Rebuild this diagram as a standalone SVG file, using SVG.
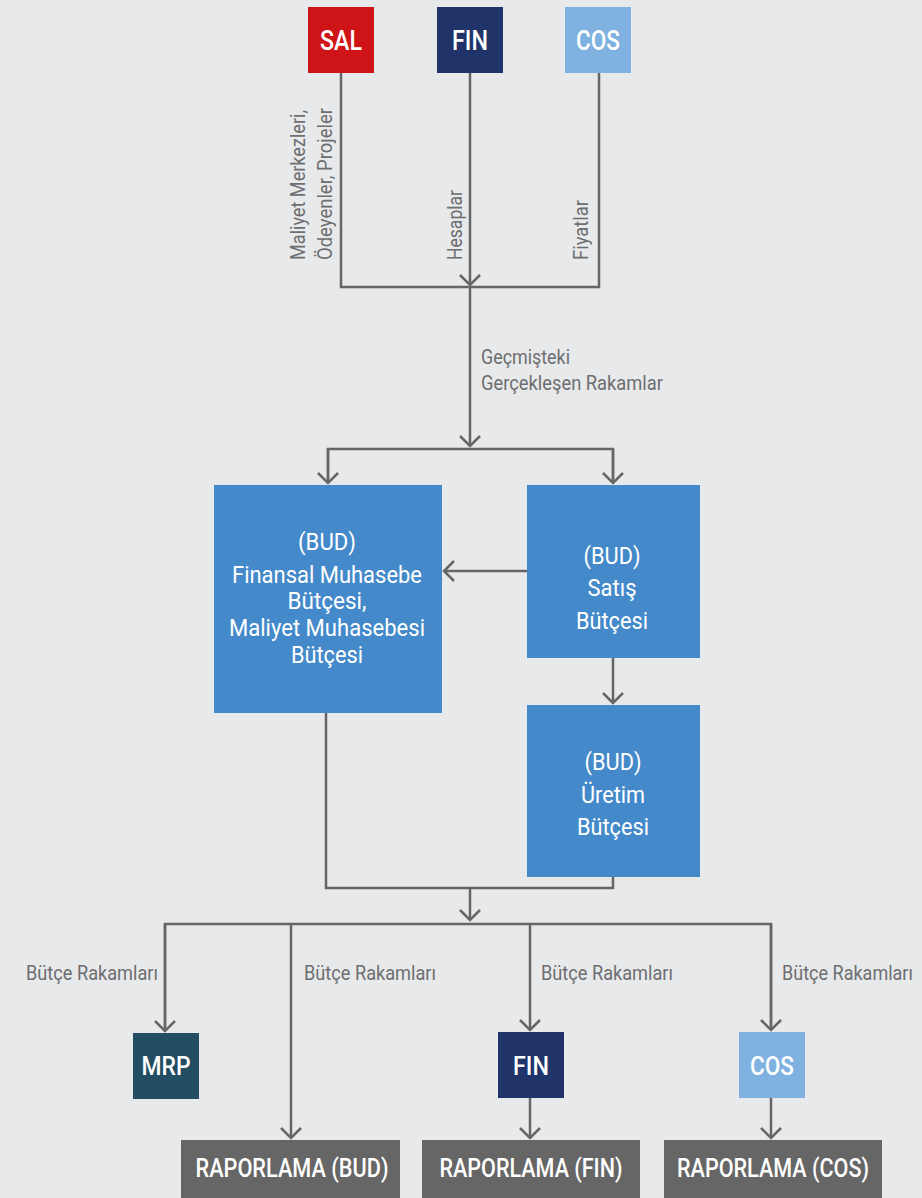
<svg xmlns="http://www.w3.org/2000/svg" width="922" height="1198" viewBox="0 0 922 1198">
<style>
.bg{fill:#e8e9eb}
.ln{fill:none;stroke:#666666;stroke-width:2.5}
.lbl{font-family:Roboto,"Liberation Sans",sans-serif;font-size:21px;fill:#6d6e70}
.bt{font-family:Roboto,"Liberation Sans",sans-serif;fill:#ffffff;text-anchor:middle}
.t28{font-size:28px;font-weight:500}
.t25{font-size:25px;font-weight:500}
.t23{font-size:24px}
</style>
<defs>
<marker id="arr" markerUnits="userSpaceOnUse" viewBox="-12 -12 14 24" refX="0" refY="0" markerWidth="14" markerHeight="24" orient="auto">
<path d="M-10,-10 L0,0 L-10,10" fill="none" stroke="#666666" stroke-width="2.5"/>
</marker>
</defs>
<rect class="bg" x="0" y="0" width="922" height="1198"/>

<g id="connectors">
<path class="ln" d="M341,73 V287 H599 V73"/>
<path class="ln" d="M470,73 V285" marker-end="url(#arr)"/>
<path class="ln" d="M470,287 V446" marker-end="url(#arr)"/>
<path class="ln" d="M328,483 V449 H613 V483"/>
<path class="ln" d="M328,449 V483" marker-end="url(#arr)"/>
<path class="ln" d="M613,449 V483" marker-end="url(#arr)"/>
<path class="ln" d="M527,571 H444" marker-end="url(#arr)"/>
<path class="ln" d="M613,658 V703" marker-end="url(#arr)"/>
<path class="ln" d="M326,713 V888 H613 V877"/>
<path class="ln" d="M470,888 V920" marker-end="url(#arr)"/>
<path class="ln" d="M165,1031 V924 H771 V1030"/>
<path class="ln" d="M165,924 V1031" marker-end="url(#arr)"/>
<path class="ln" d="M291,924 V1138" marker-end="url(#arr)"/>
<path class="ln" d="M530,924 V1030" marker-end="url(#arr)"/>
<path class="ln" d="M771,924 V1030" marker-end="url(#arr)"/>
<path class="ln" d="M530,1098 V1138" marker-end="url(#arr)"/>
<path class="ln" d="M771,1098 V1138" marker-end="url(#arr)"/>
</g>

<g id="edge-labels">
<text class="lbl" transform="translate(305,260) rotate(-90)" textLength="150" lengthAdjust="spacingAndGlyphs">Maliyet Merkezleri,</text>
<text class="lbl" transform="translate(332,260) rotate(-90)" textLength="152" lengthAdjust="spacingAndGlyphs">Ödeyenler, Projeler</text>
<text class="lbl" transform="translate(462,260) rotate(-90)" textLength="70" lengthAdjust="spacingAndGlyphs">Hesaplar</text>
<text class="lbl" transform="translate(588,260) rotate(-90)" textLength="60" lengthAdjust="spacingAndGlyphs">Fiyatlar</text>
<text class="lbl" x="481" y="364" textLength="89" lengthAdjust="spacingAndGlyphs">Geçmişteki</text>
<text class="lbl" x="481" y="390" textLength="182" lengthAdjust="spacingAndGlyphs">Gerçekleşen Rakamlar</text>
<text class="lbl" x="26" y="980" textLength="132" lengthAdjust="spacingAndGlyphs">Bütçe Rakamları</text>
<text class="lbl" x="304" y="980" textLength="132" lengthAdjust="spacingAndGlyphs">Bütçe Rakamları</text>
<text class="lbl" x="541" y="980" textLength="132" lengthAdjust="spacingAndGlyphs">Bütçe Rakamları</text>
<text class="lbl" transform="translate(782,980) scale(0.9,1)" x="0" y="0" textLength="145.5" lengthAdjust="spacingAndGlyphs">Bütçe Rakamları</text>
</g>

<g id="sal-top">
<rect x="308" y="7" width="66" height="66" fill="#cf1418"/>
<text class="bt t28" x="341" y="50" textLength="42" lengthAdjust="spacingAndGlyphs">SAL</text>
</g>
<g id="fin-top">
<rect x="437" y="7" width="66" height="66" fill="#203469"/>
<text class="bt t28" x="470" y="50" textLength="36" lengthAdjust="spacingAndGlyphs">FIN</text>
</g>
<g id="cos-top">
<rect x="565" y="7" width="66" height="66" fill="#7fb2e0"/>
<text class="bt t28" x="598" y="50" textLength="44" lengthAdjust="spacingAndGlyphs">COS</text>
</g>

<g id="bud-finansal">
<rect x="214" y="485" width="228" height="228" fill="#4489c9"/>
<text class="bt t23" x="327" y="550" textLength="58" lengthAdjust="spacingAndGlyphs">(BUD)</text>
<text class="bt t23" x="327" y="583" textLength="190" lengthAdjust="spacingAndGlyphs">Finansal Muhasebe</text>
<text class="bt t23" x="327" y="609" textLength="79" lengthAdjust="spacingAndGlyphs">Bütçesi,</text>
<text class="bt t23" x="327" y="636" textLength="196" lengthAdjust="spacingAndGlyphs">Maliyet Muhasebesi</text>
<text class="bt t23" x="327" y="663" textLength="72" lengthAdjust="spacingAndGlyphs">Bütçesi</text>
</g>
<g id="bud-satis">
<rect x="527" y="485" width="173" height="173" fill="#4489c9"/>
<text class="bt t23" x="612" y="564" textLength="57" lengthAdjust="spacingAndGlyphs">(BUD)</text>
<text class="bt t23" x="612" y="596" textLength="49" lengthAdjust="spacingAndGlyphs">Satış</text>
<text class="bt t23" x="612" y="629" textLength="72" lengthAdjust="spacingAndGlyphs">Bütçesi</text>
</g>
<g id="bud-uretim">
<rect x="527" y="705" width="173" height="172" fill="#4489c9"/>
<text class="bt t23" x="613" y="770" textLength="57" lengthAdjust="spacingAndGlyphs">(BUD)</text>
<text class="bt t23" x="613" y="803" textLength="64" lengthAdjust="spacingAndGlyphs">Üretim</text>
<text class="bt t23" x="613" y="835" textLength="72" lengthAdjust="spacingAndGlyphs">Bütçesi</text>
</g>

<g id="mrp">
<rect x="133" y="1033" width="66" height="66" fill="#234d63"/>
<text class="bt t25" x="166" y="1075" textLength="49" lengthAdjust="spacingAndGlyphs">MRP</text>
</g>
<g id="fin-bottom">
<rect x="498" y="1032" width="66" height="66" fill="#203469"/>
<text class="bt t25" x="531" y="1075" textLength="36" lengthAdjust="spacingAndGlyphs">FIN</text>
</g>
<g id="cos-bottom">
<rect x="739" y="1032" width="66" height="66" fill="#7fb2e0"/>
<text class="bt t25" x="772" y="1075" textLength="44" lengthAdjust="spacingAndGlyphs">COS</text>
</g>

<g id="rap-bud">
<rect x="181" y="1140" width="219" height="58" fill="#666666"/>
<text class="bt t25" x="292" y="1177" textLength="193" lengthAdjust="spacingAndGlyphs">RAPORLAMA (BUD)</text>
</g>
<g id="rap-fin">
<rect x="422" y="1140" width="218" height="58" fill="#666666"/>
<text class="bt t25" x="531" y="1177" textLength="183" lengthAdjust="spacingAndGlyphs">RAPORLAMA (FIN)</text>
</g>
<g id="rap-cos">
<rect x="664" y="1140" width="218" height="58" fill="#666666"/>
<text class="bt t25" x="773" y="1177" textLength="192" lengthAdjust="spacingAndGlyphs">RAPORLAMA (COS)</text>
</g>
</svg>
